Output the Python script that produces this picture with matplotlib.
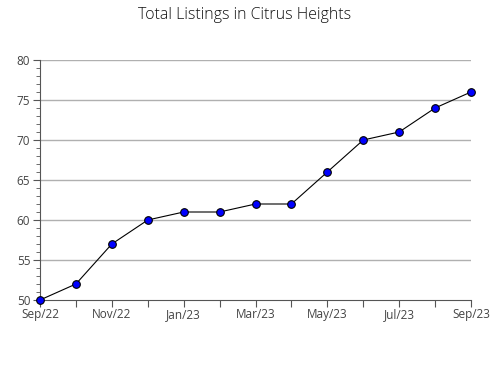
import matplotlib
matplotlib.use('Agg')
import matplotlib.pyplot as plt
from matplotlib.ticker import MultipleLocator

plt.rcParams['font.family'] = ['Open Sans', 'DejaVu Sans']

months = ['Sep/22', 'Oct/22', 'Nov/22', 'Dec/22', 'Jan/23', 'Feb/23', 'Mar/23',
          'Apr/23', 'May/23', 'Jun/23', 'Jul/23', 'Aug/23', 'Sep/23']
listings = [50, 52, 57, 60, 61, 61, 62, 62, 66, 70, 71, 74, 76]

fig = plt.figure(figsize=(4.9, 3.8), dpi=100)
ax = fig.add_axes([40/490, 1-300/380, (471-40)/490, 240/380])

x = list(range(len(months)))
ax.plot(x, listings, color='black', lw=0.8, marker='o', ms=5.5,
        markerfacecolor='#0000ff', markeredgecolor='black', markeredgewidth=0.8,
        zorder=3, clip_on=False)

ax.set_xlim(0, len(months) - 1)
ax.set_ylim(50, 80)
ax.set_xticks(x)
ax.set_xticklabels([m if i % 2 == 0 else '' for i, m in enumerate(months)])
ax.yaxis.set_major_locator(MultipleLocator(5))
ax.yaxis.set_minor_locator(MultipleLocator(1))
for y in range(55, 81, 5):
    ax.axhline(y, color='#b0b0b0', lw=1, zorder=1)

for s in ['top', 'right']:
    ax.spines[s].set_visible(False)
ax.spines['left'].set_color('#555555')
ax.spines['bottom'].set_color('#555555')
ax.tick_params(axis='both', colors='#555555', labelcolor='#444444', labelsize=8.5)
ax.tick_params(axis='y', which='major', length=5, pad=2)
ax.tick_params(axis='y', which='minor', length=3, color='#555555')
ax.tick_params(axis='x', length=5, pad=1)

fig.text(0.5, 1-15/380, 'Total Listings in Citrus Heights', ha='center', va='center',
         fontsize=11.5, color='#111111', fontweight='light')

fig.savefig('out.png', dpi=100)
